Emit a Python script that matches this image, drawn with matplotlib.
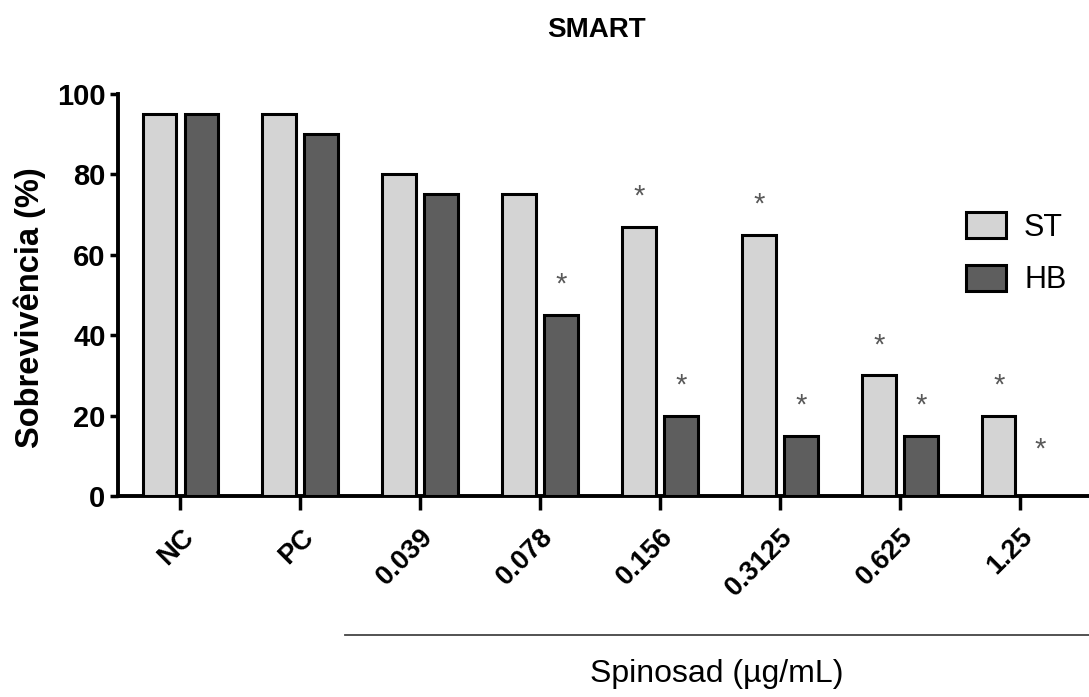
import matplotlib
matplotlib.use("Agg")
import matplotlib.pyplot as plt
import numpy as np
from matplotlib.lines import Line2D

plt.rcParams['font.family'] = ['Liberation Sans', 'DejaVu Sans']

categories = ["NC", "PC", "0.039", "0.078", "0.156", "0.3125", "0.625", "1.25"]
st_values = [95, 95, 80, 75, 67, 65, 30, 20]
hb_values = [95, 90, 75, 45, 20, 15, 15, 0]
st_star = [False, False, False, False, True, True, True, True]
hb_star = [False, False, False, True, True, True, True, True]
title = "SMART"
ylabel = "Sobrevivência (%)"
xgroup_label = "Spinosad (µg/mL)"
yticks = [0, 20, 40, 60, 80, 100]

W, H = 1089, 697
fig = plt.figure(figsize=(W / 100, H / 100), dpi=100)
ax = fig.add_axes([118 / W, 1 - 496 / H, (1088 - 118) / W, (496 - 94) / H])

x = np.arange(len(categories))
off = 0.175
w = 0.28
ax.bar(x - off, st_values, w, color="#d4d4d4", edgecolor="black", linewidth=2.2, label="ST", zorder=3)
ax.bar(x + off, hb_values, w, color="#5e5e5e", edgecolor="black", linewidth=2.2, label="HB", zorder=3)

for i in range(len(categories)):
    if st_star[i]:
        ax.text(x[i] - off, st_values[i] + 7.5, "*", ha="center", va="center", fontsize=21, color="#595959")
    if hb_star[i]:
        ax.text(x[i] + off, max(hb_values[i], 4) + 7.5, "*", ha="center", va="center", fontsize=21, color="#595959")

ax.set_xlim(-0.52, 7.57)
ax.set_ylim(0, 100)
ax.set_yticks(yticks)
ax.set_yticklabels([str(v) for v in yticks], fontsize=21, fontweight="bold")
ax.set_xticks(x)
ax.set_xticklabels(categories, fontsize=19.5, fontweight="bold", rotation=45, ha="right", va="top",
                   rotation_mode="anchor")
ax.tick_params(axis="x", length=10, width=2.5, pad=10)
ax.tick_params(axis="y", length=6, width=2.5, pad=3)
for s in ["top", "right"]:
    ax.spines[s].set_visible(False)
for s in ["left", "bottom"]:
    ax.spines[s].set_linewidth(2.8)

fig.text(30 / W, 1 - 308 / H, ylabel, rotation=90, ha="center", va="center", fontsize=23.5, fontweight="bold")
fig.text(596 / W, 1 - 30 / H, title, ha="center", va="center", fontsize=20, fontweight="bold")

leg = ax.legend(loc="upper left", bbox_to_anchor=(966 / W, 1 - 212 / H), bbox_transform=fig.transFigure,
                frameon=False, fontsize=22, borderpad=0, borderaxespad=0,
                handlelength=1.3, handleheight=0.95, labelspacing=0.72, handletextpad=0.6)

fig.add_artist(Line2D([345 / W, 1.0], [1 - 635 / H, 1 - 635 / H], color="#444444", linewidth=1.3))
fig.text(717 / W, 1 - 674 / H, xgroup_label, ha="center", va="center", fontsize=23)

fig.savefig("out.png", dpi=100)
